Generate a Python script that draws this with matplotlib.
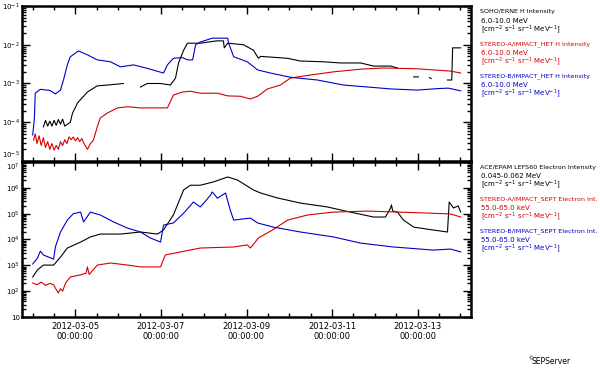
import numpy as np
import matplotlib
matplotlib.use('Agg')
import matplotlib.pyplot as plt
import matplotlib.dates as mdates
from matplotlib.ticker import LogLocator, FixedLocator, NullFormatter

# time axis: days after 2012-03-04 00:00, values are log10(intensity)
# top panel: protons 6-10 MeV
soho_days = [0.25, 0.30, 0.35, 0.40, 0.45, 0.50, 0.55, 0.60, 0.65, 0.70, 0.75, 0.88, 0.93, 1.05,
             1.28, 1.51, 1.75, 2.12, 2.13, 2.50, 2.52, 2.68, 2.99, 3.22, 3.34, 3.41, 3.53, 3.62,
             3.92, 4.30, 4.46, 4.48, 4.56, 4.93, 5.16, 5.28, 5.33, 5.96, 6.26, 6.80, 7.20, 7.67,
             7.97, 8.37, 8.53, 8.55, 8.91, 9.02, 9.05, 9.28, 9.32, 9.35, 9.70, 9.80, 9.82, 10.01]
soho_log = [-4.12, -3.95, -4.10, -3.97, -4.10, -3.95, -4.08, -3.93, -4.05, -3.92, -4.10, -4.00,
            -3.77, -3.50, -3.22, -3.06, -3.04, -3.00, np.nan, np.nan, -3.09, -3.00, -3.00, -3.04,
            -2.86, -2.47, -2.14, -1.96, -1.96, -1.90, -1.90, -2.08, -1.96, -2.00, -2.14, -2.35,
            -2.30, -2.35, -2.42, -2.44, -2.47, -2.47, -2.55, -2.55, -2.60, np.nan, -2.83, -2.83,
            np.nan, -2.85, -2.87, np.nan, -2.91, -2.91, -2.08, -2.08]

sta_het_days = [0.02, 0.06, 0.10, 0.15, 0.20, 0.25, 0.30, 0.35, 0.40, 0.45, 0.50, 0.55, 0.60,
                0.65, 0.70, 0.75, 0.80, 0.85, 0.90, 0.95, 1.00, 1.05, 1.10, 1.15, 1.20, 1.28,
                1.35, 1.42, 1.51, 1.58, 1.75, 1.98, 2.22, 2.52, 3.15, 3.29, 3.50, 3.69, 3.92,
                4.32, 4.56, 4.86, 5.09, 5.26, 5.49, 5.79, 6.03, 6.50, 7.03, 7.67, 8.20, 8.99,
                9.77, 10.01]
sta_het_log = [-4.46, -4.30, -4.55, -4.35, -4.60, -4.40, -4.65, -4.50, -4.70, -4.55, -4.72, -4.60,
               -4.70, -4.50, -4.60, -4.45, -4.55, -4.38, -4.45, -4.38, -4.48, -4.40, -4.50, -4.42,
               -4.55, -4.70, -4.55, -4.46, -4.12, -3.89, -3.76, -3.63, -3.60, -3.63, -3.63, -3.30,
               -3.22, -3.20, -3.25, -3.25, -3.32, -3.33, -3.40, -3.33, -3.14, -3.04, -2.86, -2.78,
               -2.70, -2.63, -2.60, -2.62, -2.68, -2.73]

stb_het_days = [0.00, 0.04, 0.06, 0.18, 0.41, 0.53, 0.65, 0.72, 0.81, 0.88, 1.07, 1.28, 1.51,
                1.82, 2.05, 2.36, 2.68, 3.06, 3.15, 3.29, 3.50, 3.62, 3.74, 3.81, 3.92, 4.20,
                4.56, 4.58, 4.70, 5.02, 5.26, 5.56, 6.03, 6.66, 7.27, 7.83, 8.37, 8.99, 9.50,
                9.72, 10.01]
stb_het_log = [-4.33, -3.90, -3.25, -3.15, -3.18, -3.27, -3.17, -2.91, -2.52, -2.31, -2.16, -2.26,
               -2.39, -2.44, -2.57, -2.52, -2.61, -2.73, -2.52, -2.35, -2.33, -2.39, -2.39, -2.00,
               -1.93, -1.83, -1.83, -1.95, -2.31, -2.44, -2.65, -2.73, -2.84, -2.91, -3.04, -3.09,
               -3.14, -3.17, -3.13, -3.12, -3.19]

# bottom panel: electrons
ace_days = [0.00, 0.11, 0.25, 0.49, 0.65, 0.81, 1.12, 1.35, 1.58, 2.05, 2.52, 2.92, 3.06, 3.29,
            3.53, 3.69, 3.92, 4.23, 4.56, 4.79, 5.16, 5.33, 5.72, 6.26, 6.89, 7.43, 7.97, 8.25,
            8.37, 8.39, 8.42, 8.53, 8.67, 8.91, 9.23, 9.70, 9.74, 9.84, 9.95, 10.01]
ace_log = [2.55, 2.82, 3.01, 3.01, 3.32, 3.67, 3.90, 4.10, 4.21, 4.21, 4.29, 4.21, 4.37, 4.95,
           5.92, 6.10, 6.10, 6.23, 6.42, 6.30, 5.92, 5.80, 5.61, 5.41, 5.26, 5.06, 4.87, 4.87,
           5.22, 5.34, 5.10, 5.06, 4.75, 4.48, 4.40, 4.29, 5.45, 5.22, 5.30, 5.06]

sta_sept_days = [0.00, 0.10, 0.20, 0.30, 0.40, 0.49, 0.53, 0.60, 0.65, 0.70, 0.77, 0.88, 1.12,
                 1.25, 1.28, 1.32, 1.35, 1.51, 1.82, 2.22, 2.52, 2.99, 3.10, 3.46, 3.92, 4.70,
                 5.02, 5.09, 5.28, 5.61, 5.96, 6.43, 7.03, 7.83, 8.60, 9.77, 10.01]
sta_sept_log = [2.32, 2.25, 2.35, 2.22, 2.30, 2.25, 2.12, 1.93, 2.10, 2.00, 2.32, 2.55, 2.63,
                2.70, 2.94, 2.65, 2.70, 3.01, 3.09, 3.01, 2.94, 2.94, 3.40, 3.52, 3.67, 3.71,
                3.79, 3.67, 4.06, 4.37, 4.75, 4.95, 5.06, 5.10, 5.06, 4.99, 4.87]

stb_sept_days = [0.00, 0.11, 0.18, 0.25, 0.37, 0.49, 0.53, 0.65, 0.81, 0.95, 1.12, 1.19, 1.35,
                 1.58, 1.89, 2.22, 2.52, 2.75, 2.99, 3.06, 3.29, 3.53, 3.76, 3.92, 4.00, 4.16,
                 4.20, 4.32, 4.51, 4.62, 4.70, 5.09, 5.26, 5.63, 6.26, 7.03, 7.67, 8.44, 9.37,
                 9.77, 10.01]
stb_sept_log = [3.05, 3.28, 3.55, 3.40, 3.32, 3.24, 3.71, 4.29, 4.75, 5.00, 5.06, 4.68, 5.06,
                4.95, 4.68, 4.44, 4.29, 4.06, 3.90, 4.56, 4.64, 5.02, 5.45, 5.26, 5.41, 5.72,
                5.84, 5.60, 5.80, 5.14, 4.75, 4.83, 4.64, 4.48, 4.29, 4.10, 3.86, 3.71, 3.59,
                3.63, 3.52]

top_ticks = [1e-5, 1e-4, 1e-3, 1e-2, 1e-1]
top_ticklabels = ['$10^{-5}$', '$10^{-4}$', '$10^{-3}$', '$10^{-2}$', '$10^{-1}$']
bot_ticks = [1e1, 1e2, 1e3, 1e4, 1e5, 1e6, 1e7]
bot_ticklabels = ['10', '$10^{2}$', '$10^{3}$', '$10^{4}$', '$10^{5}$', '$10^{6}$', '$10^{7}$']

top_legend = [
    ('SOHO/ERNE H Intensity', '6.0-10.0 MeV', 'black'),
    ('STEREO-A/IMPACT_HET H Intensity', '6.0-10.0 MeV', '#d40000'),
    ('STEREO-B/IMPACT_HET H Intensity', '6.0-10.0 MeV', '#0000c8'),
]
bot_legend = [
    ('ACE/EPAM LEFS60 Electron Intensity', '0.045-0.062 MeV', 'black'),
    ('STEREO-A/IMPACT_SEPT Electron Int.', '55.0-65.0 keV', '#d40000'),
    ('STEREO-B/IMPACT_SEPT Electron Int.', '55.0-65.0 keV', '#0000c8'),
]

T0 = np.datetime64('2012-03-04T00:00')


def to_time(days):
    return T0 + (np.array(days) * 86400).astype('timedelta64[s]')


def style_axis(ax, ylim, ticks, labels):
    ax.set_yscale('log')
    ax.set_ylim(*ylim)
    ax.set_xlim(np.datetime64('2012-03-03T18:00'), np.datetime64('2012-03-14T06:00'))
    ax.yaxis.set_major_locator(FixedLocator(ticks))
    ax.yaxis.set_minor_locator(LogLocator(base=10, subs=np.arange(2, 10)))
    ax.yaxis.set_minor_formatter(NullFormatter())
    ax.set_yticklabels(labels)
    ax.xaxis.set_major_locator(mdates.DayLocator(bymonthday=[5, 7, 9, 11, 13]))
    ax.xaxis.set_minor_locator(mdates.HourLocator(byhour=[0, 12]))
    ax.xaxis.set_major_formatter(mdates.DateFormatter('%Y-%m-%d\n%H:%M:%S'))
    ax.tick_params(which='both', direction='in', top=True, right=True, width=1)
    ax.tick_params(axis='x', labelsize=6)
    ax.tick_params(axis='y', labelsize=5, pad=1.5)
    ax.tick_params(which='major', length=6)
    ax.tick_params(which='minor', length=3)
    for s in ax.spines.values():
        s.set_linewidth(1.8)


def put_legend(fig, items, y_start):
    y = y_start
    for name, band, color in items:
        fig.text(480 / 600, 1 - y / 372, name, color=color, fontsize=4.6, va='center')
        fig.text(481 / 600, 1 - (y + 9) / 372, band, color=color, fontsize=5, va='center')
        fig.text(481 / 600, 1 - (y + 18) / 372,
                 r'[cm$^{-2}$ s$^{-1}$ sr$^{-1}$ MeV$^{-1}$]', color=color, fontsize=5, va='center')
        y += 32


fig = plt.figure(figsize=(6, 3.72), dpi=100)
ax1 = fig.add_axes([22 / 600, (372 - 161) / 372, 449 / 600, 155 / 372])
ax2 = fig.add_axes([22 / 600, (372 - 317) / 372, 449 / 600, 155 / 372])

lw = 0.8
ax1.plot(to_time(soho_days), 10 ** np.array(soho_log), color='black', lw=lw)
ax1.plot(to_time(sta_het_days), 10 ** np.array(sta_het_log), color='#d40000', lw=lw)
ax1.plot(to_time(stb_het_days), 10 ** np.array(stb_het_log), color='#0000c8', lw=lw)

ax2.plot(to_time(ace_days), 10 ** np.array(ace_log), color='black', lw=lw)
ax2.plot(to_time(sta_sept_days), 10 ** np.array(sta_sept_log), color='#d40000', lw=lw)
ax2.plot(to_time(stb_sept_days), 10 ** np.array(stb_sept_log), color='#0000c8', lw=lw)

style_axis(ax1, (1e-5, 1e-1), top_ticks, top_ticklabels)
style_axis(ax2, (1e1, 1e7), bot_ticks, bot_ticklabels)
ax1.tick_params(axis='x', labelbottom=False)
# keep the two labels at the panel join from sitting on top of each other
ax1.get_yticklabels()[0].set_va('bottom')
ax2.get_yticklabels()[-1].set_va('top')

put_legend(fig, top_legend, 12)
put_legend(fig, bot_legend, 167)

fig.text(528 / 600, 1 - 359 / 372, '©', fontsize=3.5, va='center')
fig.text(532 / 600, 1 - 362 / 372, 'SEPServer', fontsize=5.5, va='center')

fig.savefig('out.png', dpi=100)
plt.close(fig)
